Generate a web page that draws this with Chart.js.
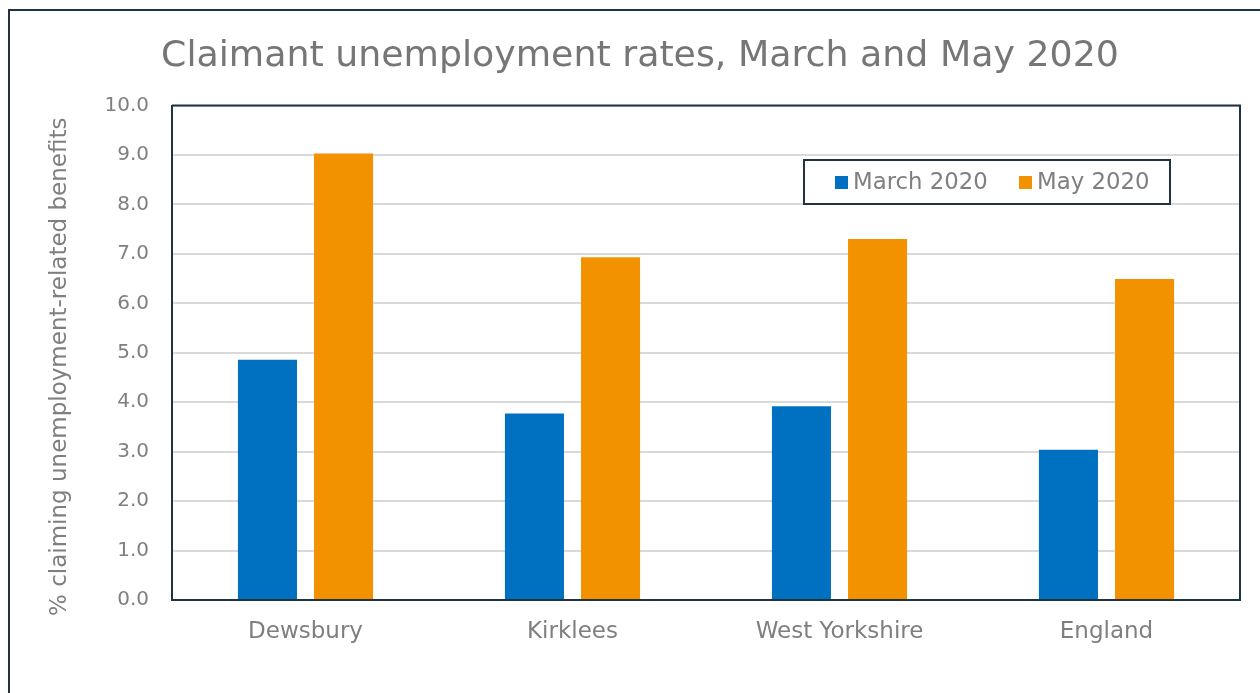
<!DOCTYPE html>
<html>
<head>
<meta charset="utf-8">
<title>Claimant unemployment rates</title>
<script src="https://cdn.jsdelivr.net/npm/chart.js@4"></script>
<style>
  html, body { margin: 0; padding: 0; background: #fff; }
  #wrap { position: relative; width: 1260px; height: 693px; overflow: hidden; }
  #can { display: block; }
</style>
</head>
<body>
<div id="wrap"><canvas id="can" width="1260" height="693"></canvas></div>
<script>
// podaci
const podrucja = ['Dewsbury', 'Kirklees', 'West Yorkshire', 'England']
const mart2020 = [4.86, 3.77, 3.92, 3.04]
const maj2020 = [9.03, 6.93, 7.30, 6.49]
const nazivi = ['March 2020', 'May 2020']
const boje = ['#0070c0', '#f39200']
const naslovY = '% claiming unemployment-related benefits'

const FONT = "'DejaVu Sans', sans-serif"
const SIVA = '#7f7f7f'
const TAMNA = '#203344'

// okvir oko cijelog grafa + gornja i desna ivica plota
const okvir = {
    id: 'okvir',
    beforeDraw(chart) {
        const ctx = chart.ctx
        ctx.save()
        ctx.strokeStyle = TAMNA
        ctx.lineWidth = 2
        ctx.strokeRect(9, 10, 1400, 900)
        ctx.restore()
    },
    afterDraw(chart) {
        const a = chart.chartArea
        const ctx = chart.ctx
        ctx.save()
        ctx.strokeStyle = TAMNA
        ctx.lineWidth = 2
        ctx.beginPath()
        ctx.moveTo(a.left, a.top)
        ctx.lineTo(a.right, a.top)
        ctx.lineTo(a.right, a.bottom)
        ctx.stroke()

        // naslov y ose, malo spusten
        ctx.translate(60, (a.top + a.bottom) / 2 + 14)
        ctx.rotate(-Math.PI / 2)
        ctx.font = '23px ' + FONT
        ctx.fillStyle = SIVA
        ctx.textAlign = 'center'
        ctx.textBaseline = 'middle'
        ctx.fillText(naslovY, 0, 0)
        ctx.restore()
    }
}

// legenda unutar plota, sa okvirom
const legenda = {
    id: 'legenda',
    afterDraw(chart) {
        const ctx = chart.ctx
        const x = 804, y = 160, w = 366, h = 44
        ctx.save()
        ctx.fillStyle = '#fff'
        ctx.fillRect(x, y, w, h)
        ctx.strokeStyle = TAMNA
        ctx.lineWidth = 2
        ctx.strokeRect(x, y, w, h)
        ctx.font = '22.8px ' + FONT
        ctx.textBaseline = 'middle'
        let pozicije = [835, 1019]
        chart.data.datasets.forEach((ds, i) => {
            const px = pozicije[i]
            ctx.fillStyle = ds.backgroundColor
            ctx.fillRect(px, y + h / 2 - 6, 13, 13)
            ctx.fillStyle = SIVA
            ctx.fillText(ds.label, px + 18, y + h / 2 + 1)
        })
        ctx.restore()
    }
}

let grapharea = document.getElementById('can')

const data = {
    labels: podrucja,
    datasets: [
        { label: nazivi[0], data: mart2020, backgroundColor: boje[0] },
        { label: nazivi[1], data: maj2020, backgroundColor: boje[1] }
    ]
}

const config = {
    type: 'bar',
    data,
    options: {
        responsive: false,
        animation: false,
        layout: { padding: { left: 40, top: 0, right: 20, bottom: 0 } },
        datasets: {
            bar: { categoryPercentage: 0.57, barPercentage: 0.776 }
        },
        plugins: {
            legend: { display: false },
            tooltip: { enabled: false },
            title: {
                display: true,
                text: 'Claimant unemployment rates, March and May 2020',
                color: '#767676',
                font: { family: FONT, size: 36.3, weight: 'normal' },
                padding: { top: 35, bottom: 27 }
            }
        },
        scales: {
            x: {
                grid: { display: false, drawTicks: false },
                border: { color: TAMNA, width: 2 },
                ticks: { color: SIVA, font: { family: FONT, size: 23 }, padding: 18 },
                afterFit(scale) { scale.height = 93 }
            },
            y: {
                min: 0,
                max: 10,
                ticks: {
                    stepSize: 1,
                    color: SIVA,
                    padding: 23,
                    font: { family: FONT, size: 20 },
                    callback: v => v.toFixed(1)
                },
                grid: { color: '#d9d9d9', lineWidth: 2, drawTicks: false },
                border: { color: TAMNA, width: 2 },
                afterFit(scale) { scale.width = 132 }
            }
        }
    },
    plugins: [okvir, legenda]
}

let chart = new Chart(grapharea, config)
</script>
</body>
</html>
